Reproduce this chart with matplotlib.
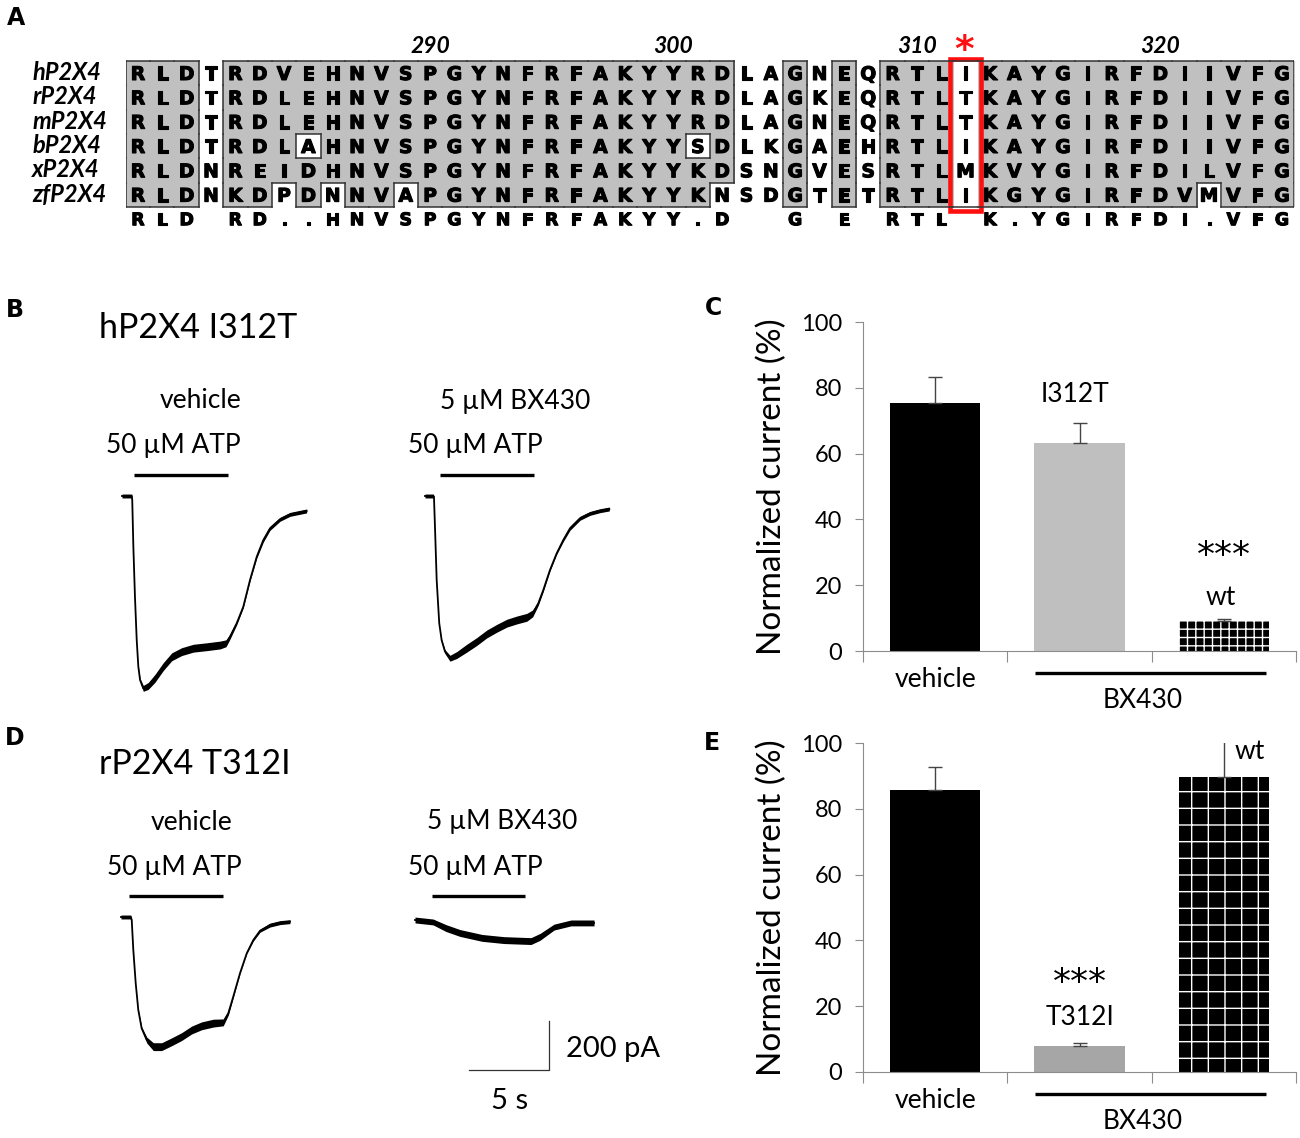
import numpy as np
import matplotlib.pyplot as plt
import matplotlib.patheffects as pe
from matplotlib.collections import LineCollection
from matplotlib.patches import Rectangle

W, H = 1300, 1138

# ---------------- panel A: alignment ----------------
species = ['hP2X4', 'rP2X4', 'mP2X4', 'bP2X4', 'xP2X4', 'zfP2X4']
sequences = [
    'RLDTRDVEHNVSPGYNFRFAKYYRDLAGNEQRTLIKAYGIRFDIIVFG',
    'RLDTRDLEHNVSPGYNFRFAKYYRDLAGKEQRTLTKAYGIRFDIIVFG',
    'RLDTRDLEHNVSPGYNFRFAKYYRDLAGNEQRTLTKAYGIRFDIIVFG',
    'RLDTRDLAHNVSPGYNFRFAKYYSDLKGAEHRTLIKAYGIRFDIIVFG',
    'RLDNREIDHNVSPGYNFRFAKYYKDSNGVESRTLMKVYGIRFDILVFG',
    'RLDNKDPDNNVAPGYNFRFAKYYKNSDGTETRTLIKGYGIRFDVMVFG',
]
consensus = 'RLD RD..HNVSPGYNFRFAKYY.D  G E RTL K.YGIRFDI.VFG'
first_residue = 278
position_marks = [290, 300, 310, 320]
boxed_cols = list(range(0, 3)) + list(range(4, 25)) + [27, 29] + list(range(31, 48))
unshaded_cells = [(3, 7), (5, 6), (5, 8), (5, 11), (3, 23), (5, 24), (5, 44)]
mutation_residue = 312

# ---------------- panels B / D: current traces (s, pA) ----------------
b_veh_t = [0, 0.61, 0.64, 0.71, 0.81, 0.92, 1.02, 1.13, 1.33, 1.64, 2.06, 2.58, 3.11, 3.73,
           4.46, 5.29, 6.13, 6.5, 6.75, 7.17, 7.58, 8.0, 8.42, 8.83, 9.25, 9.88, 10.5, 11.54]
b_veh_i = [0, 0, -16, -207, -411, -588, -696, -751, -785, -775, -744, -696, -656, -635,
           -621, -615, -608, -601, -574, -519, -452, -343, -248, -180, -132, -95, -75, -61]
b_veh_noise = [8, 8, 2, 0, 0, 0, 2, 6, 12, 14, 16, 16, 16, 16,
               16, 16, 16, 14, 10, 6, 4, 4, 6, 8, 8, 8, 8, 8]

b_bx_t = [0, 0.52, 0.56, 0.63, 0.73, 0.89, 1.04, 1.25, 1.56, 1.98, 2.61, 3.23, 3.86, 4.48,
          5.11, 5.73, 6.36, 6.73, 7.08, 7.39, 7.81, 8.23, 8.64, 9.06, 9.69, 10.31, 10.94, 11.52]
b_bx_i = [0, 0, -3, -139, -343, -519, -588, -635, -662, -649, -621, -594, -563, -540,
          -519, -506, -495, -479, -438, -384, -302, -234, -180, -132, -91, -71, -60, -53]
b_bx_noise = [8, 8, 2, 0, 0, 0, 2, 8, 12, 14, 16, 16, 16, 16,
              16, 16, 16, 14, 8, 6, 4, 4, 6, 8, 8, 8, 8, 8]

d_veh_t = [0, 0.61, 0.67, 0.77, 0.92, 1.08, 1.29, 1.61, 2.02, 2.54, 3.17, 3.79, 4.42,
           5.04, 5.77, 6.39, 6.71, 7.02, 7.44, 7.86, 8.27, 8.69, 9.31, 9.94, 10.56]
d_veh_i = [0, 0, -12, -135, -271, -379, -454, -502, -529, -529, -509, -488, -461,
           -444, -433, -430, -392, -324, -229, -148, -94, -56, -33, -23, -19]
d_veh_noise = [8, 8, 2, 0, 0, 2, 6, 12, 16, 16, 16, 16, 16,
               16, 16, 14, 8, 4, 2, 2, 4, 6, 8, 8, 8]

d_bx_t = [0, 1.13, 1.94, 2.81, 4.19, 5.56, 7.25, 7.81, 8.69, 9.75, 11.19]
d_bx_i = [0, -8, -33, -53, -73, -82, -86, -69, -29, -12, -12]
d_bx_noise = [12, 12, 14, 14, 14, 14, 14, 14, 12, 12, 12]

b_veh_atp = (0.75, 6.63)
b_bx_atp = (0.94, 6.81)
d_veh_atp = (0.5, 6.38)
d_bx_atp = (1.06, 6.88)

scale_s = 5
scale_pa = 200

# ---------------- panels C / E: bars ----------------
c_labels = ['vehicle', 'I312T', 'wt']
c_means = [75.3, 63.2, 9.1]
c_sem = [8.0, 6.2, 0.6]
e_labels = ['vehicle', 'T312I', 'wt']
e_means = [85.7, 7.9, 89.6]
e_sem = [6.9, 0.8, 11.3]

plt.rcParams['font.family'] = ['Lato', 'DejaVu Sans']
fig = plt.figure(figsize=(W / 100, H / 100), dpi=100)


def px_axes(left, top, right, bottom):
    return fig.add_axes([left / W, 1 - bottom / H, (right - left) / W, (bottom - top) / H])


def ptext(x, y, s, **kw):
    return fig.text(x / W, 1 - y / H, s, **kw)


# ---- A ----
ax = px_axes(125.8, 24.5, 1294.2, 231.3)
n_rows, n_cols = len(sequences), len(sequences[0])
mark_col = mutation_residue - first_residue
inbox = np.zeros((n_rows, n_cols), bool)
inbox[:, boxed_cols] = True
fill = inbox.copy()
fill[:, mark_col] = False
for r, c in unshaded_cells:
    inbox[r, c] = False
    fill[r, c] = False

ax.imshow(np.ma.masked_where(~fill, np.ones(fill.shape)), cmap='gray', vmin=0, vmax=1.33,
          extent=(-0.5, n_cols - 0.5, n_rows - 0.5, -0.5), aspect='auto', interpolation='nearest')
ax.set_xlim(-0.5, 47.5)
ax.set_ylim(6.5, -2.0)
ax.axis('off')

segs = []
for r in range(n_rows):
    for c in range(n_cols):
        if not inbox[r, c]:
            continue
        if r == 0 or not inbox[r - 1, c]:
            segs.append([(c - .5, r - .5), (c + .5, r - .5)])
        if r == n_rows - 1 or not inbox[r + 1, c]:
            segs.append([(c - .5, r + .5), (c + .5, r + .5)])
        if c == 0 or not inbox[r, c - 1]:
            segs.append([(c - .5, r - .5), (c - .5, r + .5)])
        if c == n_cols - 1 or not inbox[r, c + 1]:
            segs.append([(c + .5, r - .5), (c + .5, r + .5)])
ax.add_collection(LineCollection(segs, colors='#333333', linewidths=1.1, capstyle='projecting'))

heavy = [pe.withStroke(linewidth=0.8, foreground='black')]
for r, seq in enumerate(sequences):
    for c, aa in enumerate(seq):
        ax.text(c, r + 0.28, aa, ha='center', va='baseline', fontsize=13.5,
                fontweight='bold', family='DejaVu Sans', path_effects=heavy)
    ax.text(-4.35, r + 0.28, species[r], ha='left', va='baseline', fontsize=17,
            fontweight='bold', fontstyle='italic')
for c, aa in enumerate(consensus):
    ax.text(c, n_rows + 0.25, aa, ha='center', va='baseline', fontsize=12.5,
            fontweight='bold', family='DejaVu Sans', path_effects=heavy)
for p in position_marks:
    ax.text(p - first_residue, -0.83, str(p), ha='center', va='baseline', fontsize=16.5,
            fontweight='bold', fontstyle='italic')

ax.add_patch(Rectangle((mark_col - 0.63, -0.57), 1.26, 6.22, fill=False, ec='#ff1010',
                       lw=3.3, clip_on=False))
ax.text(mark_col - 0.05, -1.05, r'$\mathbf{*}$', ha='center', va='center', fontsize=27,
        color='#ff1010')

# ---- B / D traces ----
PX_PER_S = 16.0
PA_PER_PX = 4.08


def trace_axes(x0, y0):
    a = px_axes(x0 - 30, y0 - 180, x0 + 240, y0 + 220)
    a.set_xlim(-30 / PX_PER_S, 240 / PX_PER_S)
    a.set_ylim(-220 * PA_PER_PX, 180 * PA_PER_PX)
    a.axis('off')
    return a


def draw_trace(a, t, i, noise, atp, atp_y):
    t = np.array(t)
    i = np.array(i)
    n = np.array(noise)
    a.fill_between(t, i - n, i + n, color='black', lw=0)
    a.plot(t, i, color='black', lw=1.3, solid_joinstyle='round')
    a.plot(atp, [atp_y, atp_y], color='black', lw=2.4, solid_capstyle='butt')


ax = trace_axes(122, 496)
draw_trace(ax, b_veh_t, b_veh_i, b_veh_noise, b_veh_atp, 86)
ax = trace_axes(425, 496)
draw_trace(ax, b_bx_t, b_bx_i, b_bx_noise, b_bx_atp, 86)
ax = trace_axes(121, 917)
draw_trace(ax, d_veh_t, d_veh_i, d_veh_noise, d_veh_atp, 86)
ax = trace_axes(415, 920)
draw_trace(ax, d_bx_t, d_bx_i, d_bx_noise, d_bx_atp, 98)

# scale bar
sx0, sy0 = 3.4, -612
ax.plot([sx0, sx0 + scale_s, sx0 + scale_s], [sy0, sy0, sy0 + scale_pa], color='#333333', lw=0.9)
ax.text(sx0 + scale_s / 2, sy0 - 31 * PA_PER_PX, f'{scale_s} s', ha='center', va='center', fontsize=21)
ax.text(sx0 + scale_s + 1.05, sy0 + 21 * PA_PER_PX, f'{scale_pa} pA', ha='left', va='center', fontsize=21)

trace_font = 19
ptext(201, 401, 'vehicle', ha='center', va='center', fontsize=trace_font)
ptext(173, 446, '50 µM ATP', ha='center', va='center', fontsize=trace_font)
ptext(515, 401, '5 µM BX430', ha='center', va='center', fontsize=trace_font)
ptext(475, 446, '50 µM ATP', ha='center', va='center', fontsize=trace_font)
ptext(192, 822, 'vehicle', ha='center', va='center', fontsize=trace_font)
ptext(174, 867, '50 µM ATP', ha='center', va='center', fontsize=trace_font)
ptext(502, 822, '5 µM BX430', ha='center', va='center', fontsize=trace_font)
ptext(475, 867, '50 µM ATP', ha='center', va='center', fontsize=trace_font)

ptext(99, 328, 'hP2X4 I312T', ha='left', va='center', fontsize=24.5)
ptext(99, 764, 'rP2X4 T312I', ha='left', va='center', fontsize=24.5)

for lab, x, y in [('A', 16, 18), ('B', 15, 310), ('C', 713, 308), ('D', 15, 738), ('E', 712, 743)]:
    ptext(x, y, lab, ha='center', va='center', fontsize=17, fontweight='bold', family='DejaVu Sans')


# ---- C / E bars ----
def bar_panel(top, bottom, labels, means, sems, colors, hatches):
    a = px_axes(863, top, 1296, bottom)
    x = np.arange(len(means))
    for xi, m, col, h in zip(x, means, colors, hatches):
        a.bar(xi, m, width=0.625, color=col, hatch=h, edgecolor='white' if h else col, linewidth=0)
    a.errorbar(x, means, yerr=[np.zeros(len(sems)), sems], fmt='none', ecolor='#444444',
               elinewidth=1, capsize=5, capthick=1)
    a.set_xlim(-0.5, 2.5)
    a.set_ylim(0, 100)
    a.set_yticks(range(0, 101, 20))
    a.set_xticks([-0.5, 0.5, 1.5, 2.5])
    a.set_xticklabels([])
    for s in ['top', 'right']:
        a.spines[s].set_visible(False)
    for s in ['left', 'bottom']:
        a.spines[s].set_color('#8c8c8c')
    a.tick_params(axis='y', length=6, color='#8c8c8c', labelsize=17, pad=9)
    a.tick_params(axis='x', length=8, color='#8c8c8c')
    a.set_ylabel('Normalized current (%)', fontsize=24)
    a.yaxis.set_label_coords(-0.175, 0.5)
    a.text(0, -8.6, labels[0], ha='center', va='center', fontsize=19, clip_on=False)
    a.plot([0.69, 2.29], [-6.6, -6.6], color='black', lw=2.4, clip_on=False, solid_capstyle='butt')
    a.text(1.44, -14.9, 'BX430', ha='center', va='center', fontsize=19, clip_on=False)
    return a


ax = bar_panel(322, 651, c_labels, c_means, c_sem, ['black', '#bfbfbf', 'black'], [None, None, '++'])
ax.text(0.97, 78, c_labels[1], ha='center', va='center', fontsize=19)
ax.text(2.0, 29.0, '***', ha='center', va='center', fontsize=26, family='DejaVu Sans')
ax.text(1.98, 16.4, c_labels[2], ha='center', va='center', fontsize=19)

ax = bar_panel(743, 1072, e_labels, e_means, e_sem, ['black', '#a6a6a6', 'black'], [None, None, '+'])
ax.text(2.18, 97.3, e_labels[2], ha='center', va='center', fontsize=19)
ax.text(1.0, 27.0, '***', ha='center', va='center', fontsize=26, family='DejaVu Sans')
ax.text(1.0, 16.7, e_labels[1], ha='center', va='center', fontsize=19)

fig.savefig('out.png', dpi=100)
